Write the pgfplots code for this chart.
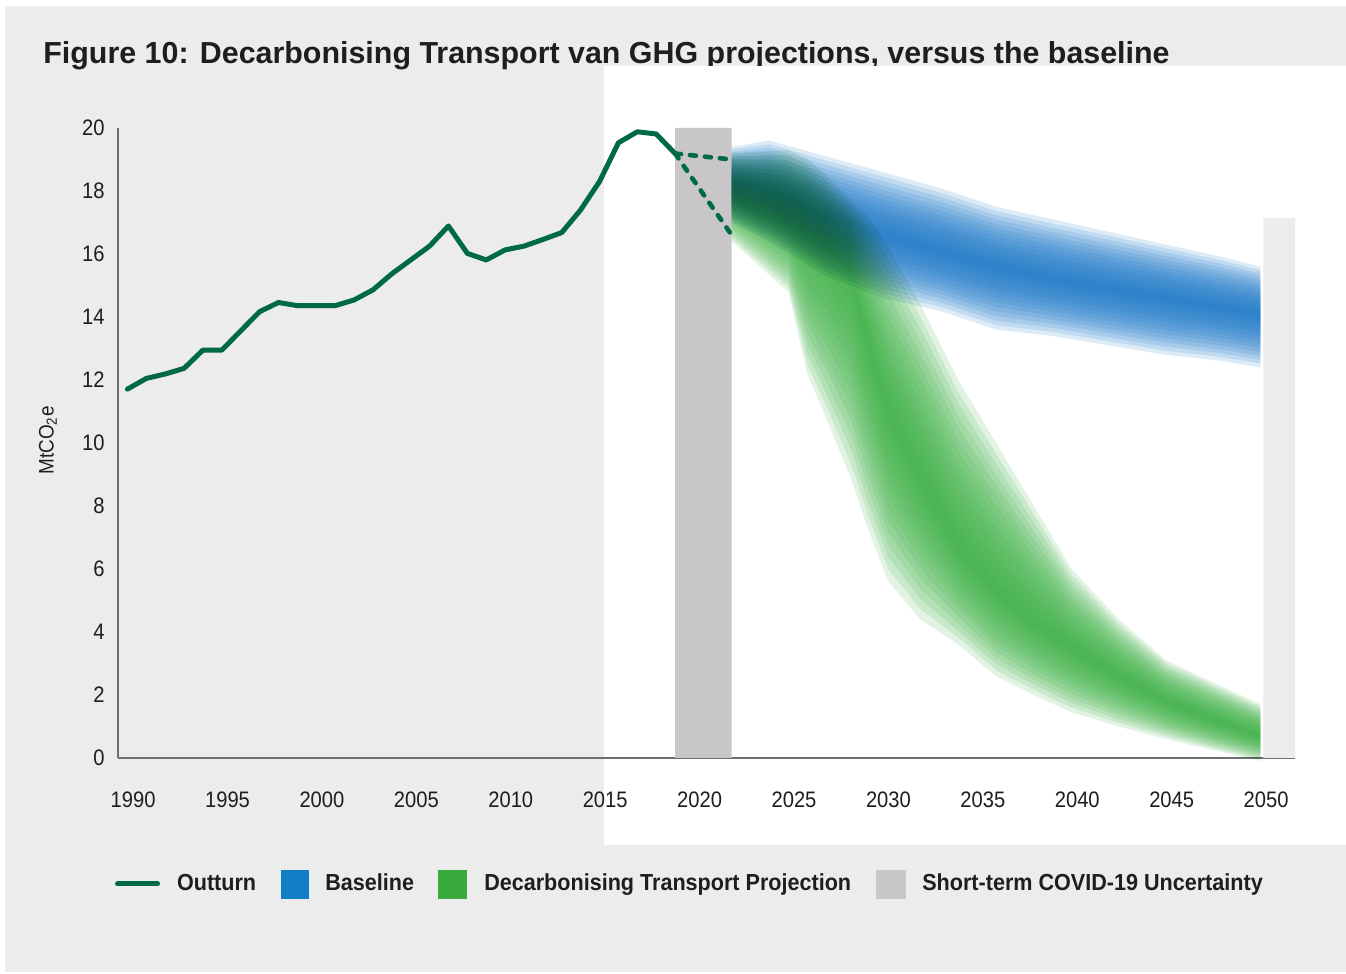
\documentclass[border=0pt]{standalone}
\usepackage{fontspec}
\setmainfont{Liberation Sans}[FakeStretch=0.9]
\newfontfamily\titlefont{Liberation Sans}
\newfontfamily\legfont{Liberation Sans}[FakeStretch=0.93]
\usepackage{pgfplots}
\pgfplotsset{compat=1.18}
\usepackage{pgfplotstable}

\definecolor{pagegrey}{HTML}{ECECEC}
\definecolor{outturn}{HTML}{006948}
\definecolor{bandblue}{HTML}{1878C8}
\definecolor{legblue}{HTML}{117DC4}
\definecolor{bandgreen}{HTML}{38AE40}
\definecolor{leggreen}{HTML}{3AAA3F}
\definecolor{covid}{HTML}{C8C6C8}
\definecolor{axisgrey}{HTML}{707070}
\definecolor{textblack}{HTML}{1E1E1E}

\pgfplotstableread{
year val
1990 11.71
1991 12.05
1992 12.19
1993 12.37
1994 12.95
1995 12.95
1996 13.56
1997 14.17
1998 14.46
1999 14.36
2000 14.36
2001 14.36
2002 14.54
2003 14.86
2004 15.37
2005 15.81
2006 16.25
2007 16.89
2008 16.02
2009 15.81
2010 16.13
2011 16.25
2012 16.46
2013 16.68
2014 17.40
2015 18.30
2016 19.53
2017 19.88
2018 19.81
2019 19.19
}\outturndata

% Baseline band: centre c and edge e (upper edge forward, lower edge backward)
\pgfplotstableread{
x c e
2022 18.3 19.4
2024 18.0 19.6
2027 17.2 19.1
2030 16.6 18.6
2033 16.1 18.1
2036 15.6 17.5
2039 15.2 17.1
2042 14.9 16.7
2045 14.6 16.3
2048 14.3 15.9
2050 14.1 15.6
2050 14.1 12.4
2048 14.3 12.6
2045 14.6 12.8
2042 14.9 13.1
2039 15.2 13.4
2036 15.6 13.6
2033 16.1 14.2
2030 16.6 14.6
2027 17.2 15.3
2024 18.0 16.4
2022 18.3 17.0
}\basepoly

% Decarbonising Transport band
\pgfplotstableread{
x c e
2022 17.8 19.2
2025 17.0 19.3
2026 16.6 19.0
2027 16.2 18.5
2028.3 15.4 17.7
2029.2 13.3 17.2
2030.3 11.0 16.2
2032 8.9 14.4
2034 6.7 12.0
2036 5.3 10.0
2038 4.3 8.0
2040 3.5 6.0
2042.5 2.6 4.4
2045 1.8 3.1
2047.5 1.2 2.4
2050 0.7 1.7
2050 0.7 -0.1
2047.5 1.2 0.25
2045 1.8 0.6
2042.5 2.6 1.0
2040 3.5 1.45
2038 4.3 2.0
2036 5.3 2.6
2034 6.7 3.6
2032 8.9 4.4
2030.3 11.0 5.6
2029.2 13.3 7.3
2028.3 15.4 8.9
2027 16.2 10.8
2026 16.6 12.2
2025 17.0 14.8
2022 17.8 16.4
}\greenpoly

\pgfplotsset{frame/.style={at={(59pt,108pt)}, anchor=south west,
  scale only axis, width=588.5pt, height=315pt,
  xmin=1989.5, xmax=2051.83, ymin=0, ymax=20, clip=false}}

\begin{document}
\begin{tikzpicture}
\fill[white] (0,0) rectangle (673pt,487pt);
\fill[pagegrey] (2.5pt,1pt) rectangle (673pt,484pt);
\node[anchor=base west, inner sep=0pt, text=textblack, font=\titlefont\fontsize{15.2}{18}\selectfont\bfseries] at (21.5pt,455pt) {Figure 10: Decarbonising Transport van GHG projections, versus the baseline};
\fill[white] (302pt,64.5pt) rectangle (673pt,454pt);

\begin{axis}[
  frame,
  axis x line=bottom, axis y line=left,
  axis line style={draw=axisgrey, line width=0.7pt, -},
  major tick length=0pt,
  xtick={1990.3,1995.3,2000.3,2005.3,2010.3,2015.3,2020.3,2025.3,2030.3,2035.3,2040.3,2045.3,2050.3},
  xticklabels={1990,1995,2000,2005,2010,2015,2020,2025,2030,2035,2040,2045,2050},
  ytick={0,2,4,6,8,10,12,14,16,18,20},
  /pgf/number format/assume math mode=true,
  tick label style={font=\fontsize{11.2}{13}\selectfont, text=textblack},
  xticklabel style={anchor=north, inner sep=0pt, yshift=-16.5pt},
  yticklabel style={anchor=east, inner sep=0pt, xshift=-6.5pt},
  legend style={draw=none, fill=none, inner sep=0pt, outer sep=0pt,
    at={(-0.0025,-0.2)}, anchor=west, legend columns=4,
    font=\legfont\fontsize{11.6}{14}\selectfont\bfseries, text=textblack,
    nodes={inner sep=0pt},
    /tikz/every odd column/.append style={column sep=8.5pt},
    /tikz/every even column/.append style={column sep=12.2pt}},
]
% COVID uncertainty bar and right-hand bar
\addplot[fill=covid, draw=none, forget plot] coordinates {(2019,0) (2019,20) (2022,20) (2022,0)} \closedcycle;
\addplot[fill=pagegrey, draw=none, forget plot] coordinates {(2050.15,0) (2050.15,17.14) (2051.83,17.14) (2051.83,0)} \closedcycle;

% Baseline band (blurred by stacked layers)
\pgfplotsinvokeforeach{14,13,12,11,10,9,8,7,6,5,4,3,2,1}{
  \addplot[fill=bandblue, fill opacity=0.145, draw=none, forget plot]
    table[x=x, y expr={\thisrow{c}+#1/14*(\thisrow{e}-\thisrow{c})}] {\basepoly};
}

% Outturn
\addplot[outturn, line width=2.5pt, line join=round, line cap=round, forget plot] table[x=year, y=val] {\outturndata};
\addplot[outturn, line width=2.3pt, line cap=round, dash pattern=on 3pt off 4.5pt, forget plot] coordinates {(2019,19.19) (2022,19.0)};
\addplot[outturn, line width=2.3pt, line cap=round, dash pattern=on 3pt off 4.5pt, forget plot] coordinates {(2019,19.19) (2022,16.6)};

\addlegendimage{legend image code/.code={\draw[outturn, line width=2.5pt, line cap=round] (1.25pt,0pt) -- (21.25pt,0pt);}}
\addlegendentry{Outturn}
\addlegendimage{legend image code/.code={\fill[legblue] (0pt,-7pt) rectangle (13.5pt,7pt);}}
\addlegendentry{Baseline}
\addlegendimage{legend image code/.code={\fill[leggreen] (0pt,-7pt) rectangle (14pt,7pt);}}
\addlegendentry{Decarbonising Transport Projection}
\addlegendimage{legend image code/.code={\fill[covid] (0pt,-7pt) rectangle (14.5pt,7pt);}}
\addlegendentry{Short-term COVID-19 Uncertainty}
\end{axis}

% Decarbonising transport band: layers stacked normally inside a group,
% the group multiplied as a whole over the blue band
\begin{scope}[blend mode=multiply]
\begin{scope}[transparency group]
\begin{axis}[frame, hide axis]
\pgfplotsinvokeforeach{14,13,12,11,10,9,8,7,6,5,4,3,2,1}{
  \addplot[fill=bandgreen, fill opacity=0.145, draw=none, forget plot]
    table[x=x, y expr={\thisrow{c}+#1/14*(\thisrow{e}-\thisrow{c})}] {\greenpoly};
}
\end{axis}
\end{scope}
\end{scope}

\node[rotate=90, inner sep=0pt, text=textblack, font=\fontsize{10.5}{12}\selectfont] at (24pt,266.75pt) {MtCO\textsubscript{2}e};
\end{tikzpicture}
\end{document}
